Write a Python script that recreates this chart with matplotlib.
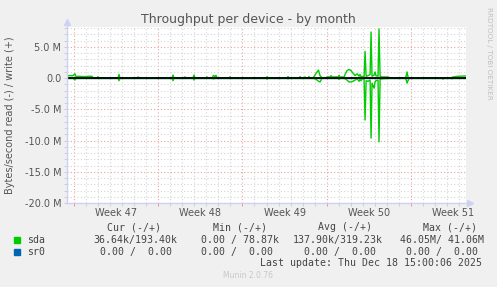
"""Munin style throughput graph, by month."""

import matplotlib
matplotlib.use("Agg")
import matplotlib.pyplot as plt
from matplotlib.patches import Rectangle
from matplotlib.ticker import FuncFormatter, MultipleLocator

# days since Monday of week 47; values in MB/s (write positive, read negative)
t = [-0.58, -0.08, 0.08, 0.17, 0.33, 0.90, 1.20, 1.50, 1.58, 1.91, 1.99, 2.08,
     3.66, 3.74, 3.82, 5.24, 5.32, 5.40, 8.15, 8.23, 8.31, 9.14, 9.23, 9.31,
     9.89, 9.98, 10.06, 10.97, 11.06, 11.14, 11.47, 11.60, 11.72, 11.80, 11.89,
     12.88, 12.97, 13.05, 15.96, 16.04, 16.13, 17.71, 17.79, 17.87, 18.70,
     18.79, 18.87, 19.12, 19.20, 19.28, 19.45, 19.53, 19.62, 19.87, 20.03,
     20.20, 20.32, 20.45, 20.61, 20.95, 21.03, 21.28, 21.36, 21.45, 21.95,
     22.03, 22.11, 22.45, 22.53, 22.69, 22.86, 23.03, 23.19, 23.36, 23.53,
     23.69, 23.77, 23.86, 23.94, 24.11, 24.19, 24.28, 24.44, 24.61, 24.69,
     24.77, 24.94, 25.02, 25.10, 25.27, 25.35, 25.44, 25.60, 26.10, 26.27,
     27.52, 27.60, 27.68, 27.76, 27.85, 30.59, 30.67, 30.76, 31.34, 31.42,
     31.51, 31.92, 32.58]
write = [0.40, 0.40, 0.70, 0.25, 0.30, 0.25, 0.30, 0.30, 0.06, 0.06, 0.22, 0.06,
         0.06, 0.60, 0.06, 0.06, 0.20, 0.06, 0.06, 0.50, 0.06, 0.06, 0.20, 0.06,
         0.06, 0.50, 0.06, 0.06, 0.20, 0.06, 0.06, 0.45, 0.25, 0.45, 0.06,
         0.06, 0.22, 0.06, 0.06, 0.22, 0.06, 0.06, 0.25, 0.06, 0.06,
         0.25, 0.06, 0.06, 0.20, 0.06, 0.06, 0.25, 0.06, 0.06, 0.50,
         1.00, 1.30, 0.40, 0.06, 0.06, 0.20, 0.20, 0.40, 0.20, 0.20,
         0.45, 0.20, 0.20, 0.60, 1.20, 1.40, 1.20, 0.80, 0.40, 0.70,
         0.30, 0.60, 0.20, 0.30, 0.20, 4.30, 0.30, 0.40, 0.60, 7.40,
         0.30, 0.50, 1.00, 0.40, 0.30, 7.90, 0.30, 0.20, 0.20, 0.06,
         0.06, 0.30, 1.00, 0.20, 0.06, 0.06, 0.06, 0.06, 0.06, 0.15,
         0.20, 0.30, 0.35]
read = [-0.03, -0.03, -0.30, -0.03, -0.03, -0.03, -0.03, -0.03, -0.03, -0.03, -0.03, -0.03,
        -0.03, -0.40, -0.03, -0.03, -0.03, -0.03, -0.03, -0.40, -0.03, -0.03, -0.03, -0.03,
        -0.03, -0.30, -0.03, -0.03, -0.03, -0.03, -0.03, -0.10, -0.03, -0.03, -0.03,
        -0.03, -0.03, -0.03, -0.03, -0.15, -0.03, -0.03, -0.10, -0.03, -0.03,
        -0.03, -0.03, -0.03, -0.03, -0.03, -0.03, -0.03, -0.03, -0.03, -0.10,
        -0.30, -0.50, -0.60, -0.03, -0.03, -0.03, -0.03, -0.03, -0.03, -0.03,
        -0.20, -0.03, -0.03, -0.10, -0.30, -0.60, -0.60, -0.50, -0.30, -0.10,
        -0.50, -0.20, -0.40, -0.10, -0.20, -6.70, -0.40, -0.50, -0.30, -9.60,
        -0.80, -1.60, -0.60, -0.40, -0.30, -10.20, -0.20, -0.10, -0.03, -0.03,
        -0.03, -0.20, -0.80, -0.40, -0.03, -0.03, -0.15, -0.03, -0.03, -0.10,
        -0.03, -0.03, -0.03]

week_mid = [3.5, 10.5, 17.5, 24.5, 31.5]
week_labels = ["Week 47", "Week 48", "Week 49", "Week 50", "Week 51"]

headers = ["Cur (-/+)", "Min (-/+)", "Avg (-/+)", "Max (-/+)"]
sda_vals = ["36.64k/193.40k", "0.00 / 78.87k", "137.90k/319.23k", "46.05M/ 41.06M"]
sr0_vals = ["0.00 /  0.00", "0.00 /  0.00", "0.00 /  0.00", "0.00 /  0.00"]

W, H = 497, 287
GREEN, BLUE = "#00cc00", "#0066b3"
TXT = "#555555"


def px(x, y):
    return x / W, 1 - y / H


fig = plt.figure(figsize=(W / 100, H / 100), dpi=100, facecolor="#f0f0f0")
ax = fig.add_axes([67 / W, 1 - 203 / H, (466 - 67) / W, (203 - 27) / H])
ax.set_facecolor("white")

ax.plot(t, write, color=GREEN, lw=1.0, zorder=3)
ax.plot(t, read, color=GREEN, lw=1.0, zorder=3)
ax.plot([t[0], t[-1]], [0, 0], color=BLUE, lw=1.0, zorder=2)  # sr0 is flat
ax.axhline(0, color="black", lw=1.3, zorder=4)

ax.set_xlim(-0.58, 32.58)
ax.set_ylim(-20, 8.2)

ax.xaxis.set_major_locator(MultipleLocator(7))
ax.xaxis.set_minor_locator(MultipleLocator(1))
ax.yaxis.set_major_locator(MultipleLocator(5))
ax.yaxis.set_minor_locator(MultipleLocator(1))
ax.xaxis.set_major_formatter(FuncFormatter(lambda v, p: ""))
ax.yaxis.set_major_formatter(
    FuncFormatter(lambda v, p: "0.0" if abs(v) < 1e-9 else f"{v:.1f} M"))

ax.grid(which="minor", color="#d4d4d4", ls=(0, (1, 2)), lw=0.8)
ax.grid(which="major", color="#f0a0a0", ls=(0, (1, 2)), lw=0.8)
ax.set_axisbelow(True)
ax.tick_params(which="both", length=2, width=0.6, pad=2, labelsize=7,
               labelcolor=TXT, color="#c8c8c8")
ax.tick_params(axis="x", which="major", color="#f08080", length=2.5)
for s in ax.spines.values():
    s.set_visible(False)

# rrdtool style axes with arrow heads
ax.plot([0, 0], [0, 1.028], color="#cdd2f5", lw=1, transform=ax.transAxes,
        clip_on=False, zorder=5)
ax.plot([0, 1.01], [0, 0], color="#cdd2f5", lw=1, transform=ax.transAxes,
        clip_on=False, zorder=5)
ax.plot([0], [1.028], marker="^", ms=4, color="#cdd2f5",
        transform=ax.transAxes, clip_on=False)
ax.plot([1.01], [0], marker=">", ms=4, color="#cdd2f5",
        transform=ax.transAxes, clip_on=False)

for xm, lab in zip(week_mid, week_labels):
    ax.text(xm, -0.055, lab, transform=ax.get_xaxis_transform(), ha="center",
            va="center", fontsize=7, color=TXT)

fig.text(*px(248, 19), "Throughput per device - by month", ha="center",
         va="center", fontsize=9, color=TXT)
fig.text(*px(10.5, 115), "Bytes/second read (-) / write (+)", rotation=90,
         ha="center", va="center", fontsize=7, color=TXT)
fig.text(*px(489, 53), "RRDTOOL / TOBI OETIKER", rotation=270, ha="center",
         va="center", fontsize=5.2, color="#c0c0c0")

mono = dict(family="DejaVu Sans Mono", fontsize=7.1, color="#444444", va="center")
for xl, h in zip([107, 213, 318, 423], headers):
    fig.text(*px(xl, 227), h, ha="left", **mono)
for xl, v in zip([93, 201, 293, 400], sda_vals):
    fig.text(*px(xl, 240), v, ha="left", **mono)
for xl, v in zip([100, 201, 304, 406], sr0_vals):
    fig.text(*px(xl, 252), v, ha="left", **mono)
fig.text(*px(27, 240), "sda", ha="left", **mono)
fig.text(*px(27, 252), "sr0", ha="left", **mono)
fig.text(*px(482, 263), "Last update: Thu Dec 18 15:00:06 2025", ha="right", **mono)
fig.text(*px(248, 276), "Munin 2.0.76", ha="center", va="center",
         fontsize=5.5, color="#c8c8c8")

for yy, c in [(237, GREEN), (249, BLUE)]:
    x0, y0 = px(14, yy + 6)
    fig.add_artist(Rectangle((x0, y0), 6 / W, 6 / H, color=c,
                             transform=fig.transFigure))

fig.savefig("out.png", dpi=100, facecolor=fig.get_facecolor())
